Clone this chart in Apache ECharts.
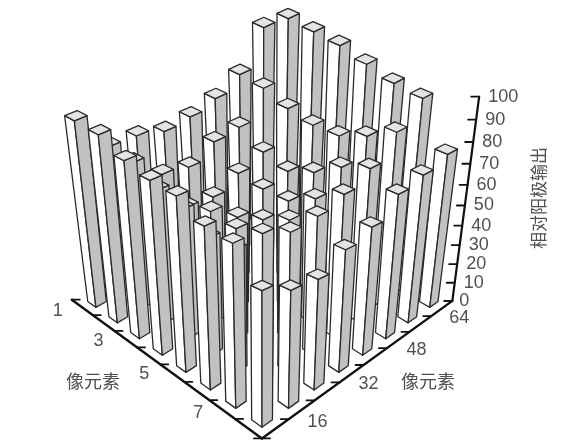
<!DOCTYPE html>
<html><head><meta charset="utf-8">
<style>html,body{margin:0;padding:0;background:#fff}#c{width:576px;height:443px}</style>
<script src="https://cdn.jsdelivr.net/npm/echarts@6/dist/echarts.min.js"></script>
</head><body><div id="c"></div>
<script>
// values by pixel row (front to back along the left axis), each read along the right axis
const row8=[66,58,55,61,64,72,74,77];
const row7=[79,48,69,69,72,77,87,96];
const row6=[79,61,61,60,63,71,79,97];
const row5=[85,59,56,53,55,62,73,100];
const row4=[85,65,57,47,54,56,72,103];
const row3=[87,67,52,50,55,59,74,104];
const row2=[92,73,61,58,64,65,78,105];
const row1=[92,74,73,69,70,73,79,96];
const leftLabels=['','7','','5','','3','','1'];
const rightLabels=['','16','','32','','48','','64'];
const zTicks=[0,10,20,30,40,50,60,70,80,90,100];
const leftTitle='像元素',rightTitle='像元素',zTitle='相对阳极输出';

const rows=[row8,row7,row6,row5,row4,row3,row2,row1];
// projection of the bar grid (u along left axis, v along right axis, z height)
const h=-0.0014,g=0.018,W0=0.39,AX=-0.285;
function P(u,v,z){const w=1+g*(u+v)+h*z;return [(262-22*u+31.7*v+262*h*z)/w,(427.3-11.6*u-11.6*v+1750*h*z)/w];}
const cells=[];
for(let s=14;s>=0;s--)for(let u=7;u>=0;u--){const v=s-u;if(v>=0&&v<8)cells.push([u,v,rows[u][v]]);}
const FONT="'Liberation Sans','Noto Sans CJK SC',sans-serif",TXT='#505050';
const leftOff=[[0,0],[-11,13],[0,0],[-16,10],[0,0],[-16,10],[0,0],[-14,11]];
const rightOff=[[0,0],[3,22],[0,0],[5,19],[0,0],[7,18],[0,0],[7,17]];
const txt=(c,t,size,align,rot)=>({type:'text',x:c[0],y:c[1],rotation:rot||0,style:{text:t,fill:TXT,font:size+'px '+FONT,align:align||'center',verticalAlign:'middle'}});

const chart=echarts.init(document.getElementById('c'));
chart.setOption({animation:false,
grid:{left:0,right:0,top:0,bottom:0},
xAxis:{type:'value',min:0,max:576,show:false},
yAxis:{type:'value',min:0,max:443,inverse:true,show:false},
series:[
{type:'custom',coordinateSystem:'cartesian2d',clip:false,silent:true,z:1,data:[[0,0]],encode:{x:0,y:1},
renderItem(p,api){
 const c=a=>api.coord(a),kids=[];
 const line=(a,b,w)=>kids.push({type:'line',shape:{x1:c(a)[0],y1:c(a)[1],x2:c(b)[0],y2:c(b)[1]},style:{stroke:'#111',lineWidth:w,lineCap:'round'}});
 const L=k=>P(AX+k*1.01,AX,0),R=k=>P(AX,AX+k,0),Z=z=>P(AX,AX+8,z);
 line(L(0),L(8),2.4);line(R(0),R(8),2.4);line(Z(0),Z(100),2.2);
 for(let k=0;k<=8;k++){
  const a=L(k),b=R(k);line(a,[a[0]+8,a[1]],1.8);line(b,[b[0]-8,b[1]],1.8);
  const i=k-1;
  if(i>=0&&leftLabels[i]){const q=[a[0]+leftOff[i][0],a[1]+leftOff[i][1]];kids.push(txt(c(q),leftLabels[i],18));}
  if(i>=0&&rightLabels[i]){const q=[b[0]+rightOff[i][0],b[1]+rightOff[i][1]];kids.push(txt(c(q),rightLabels[i],18));}
 }
 zTicks.forEach(t=>{const a=Z(t);line(a,[a[0]-8,a[1]],1.8);
  const q=[a[0]+(t===0?7:9),a[1]];kids.push(txt(c(q),String(t),18,'left'));});
 kids.push(txt(c([93,383]),leftTitle,18));
 kids.push(txt(c([428,383]),rightTitle,18));
 kids.push(txt(c([540,198]),zTitle,17,'center',Math.PI/2));
 return {type:'group',children:kids};
}},
{type:'custom',coordinateSystem:'cartesian2d',clip:false,silent:true,z:2,data:cells,encode:{x:0,y:1},
renderItem(p,api){
 const u=api.value(0),v=api.value(1),z=api.value(2);
 const c=a=>api.coord(a);const st={stroke:'#2a2a2a',lineWidth:1.3,lineJoin:'round'};
 const ctr=P(u+W0/2,v+W0/2,z);
 const lft=P(u+W0,v,z),rgt=P(u,v+W0,z),frt=P(u,v,z),bck=P(u+W0,v+W0,z);
 const kx=22.4/(rgt[0]-lft[0]),ky=10.4/(frt[1]-bck[1]);
 const nm=q=>[ctr[0]+(q[0]-ctr[0])*kx,ctr[1]+(q[1]-ctr[1])*ky];
 const tF=nm(frt),tL=nm(lft),tR=nm(rgt),tB=nm(bck);
 const bF=P(u,v,0),bL=P(u+W0,v,0),bR=P(u,v+W0,0);
 return {type:'group',children:[
 {type:'polygon',shape:{points:[tL,tF,bF,bL].map(c)},style:{fill:'#fff',...st}},
 {type:'polygon',shape:{points:[tF,tR,bR,bF].map(c)},style:{fill:'#bfc1c3',...st}},
 {type:'polygon',shape:{points:[tL,tF,tR,tB].map(c)},style:{fill:'#e3e4e6',...st}}]};
}}]});
</script></body></html>
